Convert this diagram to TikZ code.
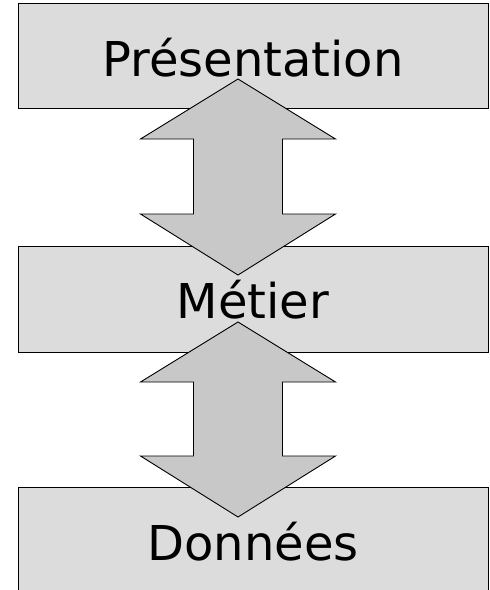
\documentclass[tikz,border=0pt]{standalone}
\usepackage{fontspec}
\setmainfont{DejaVu Sans}
\definecolor{layerfill}{HTML}{DCDCDC}
\definecolor{arrowfill}{HTML}{C8C8C8}
\begin{document}
\begin{tikzpicture}[x=1pt,y=-1pt,
  layer/.style={draw=black,line width=1.3pt,fill=layerfill,inner sep=0pt,
    minimum width=470pt,anchor=north west},
  flow/.style={draw=black,line width=0.9pt,fill=arrowfill,line join=miter},
  label/.style={anchor=base,inner sep=0pt,font=\fontsize{48}{50}\selectfont}]
\useasboundingbox (0,0) rectangle (490,590);
\clip (0,0) rectangle (490,590);
% layers
\node[layer,minimum height=105pt] (top) at (18,3) {};
\node[layer,minimum height=106pt] (mid) at (18,246) {};
\node[layer,minimum height=123pt] (bot) at (18,487) {};
% double arrows between layers: centre x, tip, head base, head base, tip
\newcommand{\updown}[5]{%
  \draw[flow] (#1,#2) -- (#1+97.5,#3) -- (#1+44.5,#3) -- (#1+44.5,#4)
    -- (#1+97.5,#4) -- (#1,#5) -- (#1-97.5,#4) -- (#1-44.5,#4)
    -- (#1-44.5,#3) -- (#1-97.5,#3) -- cycle;}
\updown{238}{79}{139}{214}{275}
\updown{238}{322}{382}{456}{517}
% layer names
\node[label] (pres) at (253,76) {Présentation};
\node[label] (met) at (253,318) {Métier};
\node[label] (don) at (253,560) {Données};
\end{tikzpicture}
\end{document}
